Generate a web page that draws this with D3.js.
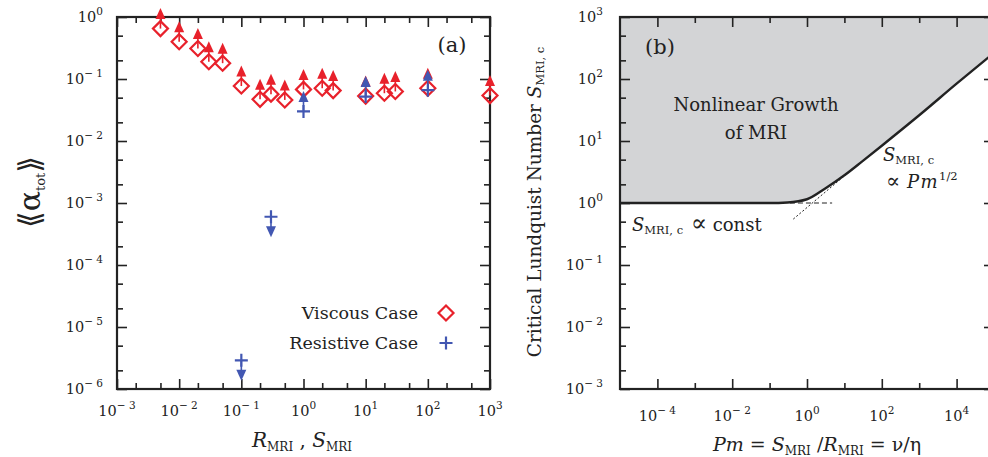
<!DOCTYPE html>
<html><head><meta charset="utf-8">
<script src="https://cdn.jsdelivr.net/npm/d3@7"></script>
<style>
html,body{margin:0;padding:0;background:#fff;}
svg{display:block;font-family:"DejaVu Serif",serif;}
</style></head><body>
<svg id="chart" width="988" height="457"></svg>
<script>
// ---------- Panel (a) data ----------
const viscousX     = [0.005, 0.01, 0.02, 0.03, 0.05, 0.1, 0.2, 0.3, 0.5, 1, 2, 3, 10, 20, 30, 100, 1000];
const viscousAlpha = [0.65, 0.40, 0.31, 0.19, 0.18, 0.077, 0.047, 0.057, 0.046, 0.068, 0.071, 0.065, 0.053, 0.059, 0.063, 0.071, 0.054];
const resistiveX     = [0.1, 0.3, 1, 10, 100];
const resistiveAlpha = [2.9e-6, 6e-4, 0.030, 0.052, 0.066];
const resistiveArrow = ["down", "down", "up", "up", "up"];
const xExpA = [-3, -2, -1, 0, 1, 2, 3];
const yExpA = [0, -1, -2, -3, -4, -5, -6];
const legendLabels = ["Viscous Case", "Resistive Case"];

// ---------- Panel (b) data ----------
const curvePm = [1e-5, 0.1, 0.3, 1, 3, 10, 30, 100, 1e3, 1e4, 1e5];
const curveS  = [1, 1, 1.02, 1.15, 1.7, 2.8, 4.7, 8.4, 26, 84, 265];
const constAsymPm = [0.35, 4.7];
const constAsymS  = [1, 1];
const powAsymPm = [0.43, 12];
const powAsymS  = [0.55, 3.0];
const xExpB = [-4, -2, 0, 2, 4];
const yExpB = [3, 2, 1, 0, -1, -2, -3];

// ---------- styles ----------
const RED = "#e8212b", BLUE = "#4257b2", INK = "#222", SHADE = "#d3d4d6";

const svg = d3.select("#chart");

// scales
const xA = d3.scaleLog().domain([1e-3, 1e3]).range([117, 490]);
const yA = d3.scaleLog().domain([1e-6, 1]).range([389, 17]);
const xB = d3.scaleLog().domain([1e-5, 1e5]).range([620, 994]);
const yB = d3.scaleLog().domain([1e-3, 1e3]).range([389, 17]);

function minorVals(lo, hi, mults) {
  const out = [];
  for (let e = lo; e < hi; e++) mults.forEach(m => out.push(m * Math.pow(10, e)));
  return out;
}

function drawFrameAxes(g, x, y, majX, minX, majY, minY) {
  const [x0, x1] = x.range(), [y1, y0] = y.range();
  const mk = (axis, tx, ty, vals, size) => {
    const a = g.append("g").attr("transform", `translate(${tx},${ty})`)
      .call(axis.tickValues(vals).tickSize(size).tickFormat(""));
    a.select(".domain").remove();
    a.selectAll("line").attr("stroke", INK).attr("stroke-width", 1.6);
  };
  [[majX, -10], [minX, -6]].forEach(([v, s]) => {
    mk(d3.axisBottom(x), 0, y1, v, s);
    mk(d3.axisTop(x), 0, y0, v, s);
  });
  [[majY, -10], [minY, -6]].forEach(([v, s]) => {
    mk(d3.axisLeft(y), x0, 0, v, s);
    mk(d3.axisRight(y), x1, 0, v, s);
  });
  g.append("rect").attr("x", x0).attr("y", y0).attr("width", x1 - x0).attr("height", y1 - y0)
    .attr("fill", "none").attr("stroke", INK).attr("stroke-width", 2.2);
}

function powLabel(g, px, py, e, anchor) {
  const t = g.append("text").attr("x", px).attr("y", py).attr("text-anchor", anchor)
    .attr("fill", INK).attr("font-size", 14.5);
  t.append("tspan").text("10");
  t.append("tspan").attr("dy", -7).attr("font-size", 10.5)
    .text(e < 0 ? "\u2212 " + (-e) : String(e));
}

// ================= Panel (a) =================
const gA = svg.append("g");
drawFrameAxes(gA, xA, yA,
  xExpA.map(e => Math.pow(10, e)), minorVals(-3, 3, [2, 5]),
  yExpA.map(e => Math.pow(10, e)), minorVals(-6, 0, [2, 5]));

xExpA.forEach(e => powLabel(gA, xA(Math.pow(10, e)), 416, e, "middle"));
yExpA.forEach(e => powLabel(gA, 103, yA(Math.pow(10, e)) + 5, e, "end"));

function arrow(g, cx, cy, dir, color) {
  const s = dir === "up" ? -1 : 1;
  g.append("line").attr("x1", cx).attr("y1", cy).attr("x2", cx).attr("y2", cy + s * 11)
    .attr("stroke", color).attr("stroke-width", 1.6);
  g.append("path")
    .attr("d", `M${cx - 5},${cy + s * 9.5}L${cx},${cy + s * 20.5}L${cx + 5},${cy + s * 9.5}Z`)
    .attr("fill", color);
}
function diamond(g, cx, cy) {
  g.append("path").attr("d", `M${cx},${cy - 7.5}L${cx + 7.5},${cy}L${cx},${cy + 7.5}L${cx - 7.5},${cy}Z`)
    .attr("fill", "none").attr("stroke", RED).attr("stroke-width", 2.2);
}
function plus(g, cx, cy) {
  g.append("path").attr("d", `M${cx - 6.5},${cy}H${cx + 6.5}M${cx},${cy - 6.5}V${cy + 6.5}`)
    .attr("stroke", BLUE).attr("stroke-width", 2.2).attr("fill", "none");
}

const gPts = gA.append("g");
viscousX.forEach((v, i) => {
  const cx = xA(v), cy = yA(viscousAlpha[i]);
  arrow(gPts, cx, cy, "up", RED);
  diamond(gPts, cx, cy);
});
resistiveX.forEach((v, i) => {
  const cx = xA(v), cy = yA(resistiveAlpha[i]);
  arrow(gPts, cx, cy, resistiveArrow[i], BLUE);
  plus(gPts, cx, cy);
});

// legend
legendLabels.forEach((lab, i) => {
  const ly = 313 + i * 30;
  gA.append("text").attr("x", 418).attr("y", ly + 6).attr("text-anchor", "end")
    .attr("font-size", 17.5).attr("fill", INK).text(lab);
  if (i === 0) diamond(gA, 446, ly); else plus(gA, 446, ly);
});

gA.append("text").attr("x", 452).attr("y", 52).attr("text-anchor", "middle")
  .attr("font-size", 21).attr("fill", INK).text("(a)");

// axis titles (a)
const xtA = gA.append("text").attr("x", 302).attr("y", 447).attr("text-anchor", "middle")
  .attr("fill", INK).attr("font-size", 20);
xtA.append("tspan").attr("font-style", "italic").text("R");
xtA.append("tspan").attr("font-size", 12).attr("dy", 4).text("MRI");
xtA.append("tspan").attr("dy", -4).text(" , ");
xtA.append("tspan").attr("font-style", "italic").text("S");
xtA.append("tspan").attr("font-size", 12).attr("dy", 4).text("MRI");

const ytA = gA.append("text").attr("transform", "translate(40,192) rotate(-90)")
  .attr("text-anchor", "middle").attr("fill", INK).attr("font-size", 30);
ytA.append("tspan").attr("font-family", "DejaVu Sans").text("\u27EA");
ytA.append("tspan").text("\u03B1");
ytA.append("tspan").attr("font-size", 13).attr("dy", 5).text("tot");
ytA.append("tspan").attr("dy", -5).attr("font-family", "DejaVu Sans").text("\u27EB");

// ================= Panel (b) =================
const gB = svg.append("g");
const curve = curvePm.map((p, i) => [p, curveS[i]]);

gB.append("path").datum(curve)
  .attr("d", d3.area().x(d => xB(d[0])).y0(yB(1e3)).y1(d => yB(d[1])).curve(d3.curveMonotoneX))
  .attr("fill", SHADE);

drawFrameAxes(gB, xB, yB,
  d3.range(-4, 6, 2).map(e => Math.pow(10, e)), [-3, -1, 1, 3].map(e => Math.pow(10, e)),
  yExpB.map(e => Math.pow(10, e)), minorVals(-3, 3, [2, 5]));

xExpB.forEach(e => powLabel(gB, xB(Math.pow(10, e)), 421, e, "middle"));
yExpB.forEach(e => powLabel(gB, 603, yB(Math.pow(10, e)) + 5, e, "end"));

const lineGen = d3.line().x(d => xB(d[0])).y(d => yB(d[1]));
gB.append("path").datum(constAsymPm.map((p, i) => [p, constAsymS[i]]))
  .attr("d", lineGen).attr("fill", "none").attr("stroke", INK).attr("stroke-width", 1)
  .attr("stroke-dasharray", "5,3");
gB.append("path").datum(powAsymPm.map((p, i) => [p, powAsymS[i]]))
  .attr("d", lineGen).attr("fill", "none").attr("stroke", INK).attr("stroke-width", 1)
  .attr("stroke-dasharray", "2,2");
gB.append("path").datum(curve)
  .attr("d", d3.line().x(d => xB(d[0])).y(d => yB(d[1])).curve(d3.curveMonotoneX))
  .attr("fill", "none").attr("stroke", INK).attr("stroke-width", 2.4);

gB.append("text").attr("x", 660).attr("y", 54).attr("text-anchor", "middle")
  .attr("font-size", 21).attr("fill", INK).text("(b)");
gB.append("text").attr("x", 756).attr("y", 111).attr("text-anchor", "middle")
  .attr("font-size", 18).attr("fill", INK).text("Nonlinear Growth");
gB.append("text").attr("x", 756).attr("y", 139).attr("text-anchor", "middle")
  .attr("font-size", 18).attr("fill", INK).text("of MRI");

const t1 = gB.append("text").attr("x", 632).attr("y", 231).attr("font-size", 18).attr("fill", INK);
t1.append("tspan").attr("font-style", "italic").text("S");
t1.append("tspan").attr("font-size", 11.5).attr("dy", 3).text("MRI, c");
t1.append("tspan").attr("dy", -3).attr("font-size", 24).text(" \u221D");
t1.append("tspan").text(" const");

const t2 = gB.append("text").attr("x", 883).attr("y", 161).attr("font-size", 18).attr("fill", INK);
t2.append("tspan").attr("font-style", "italic").text("S");
t2.append("tspan").attr("font-size", 11.5).attr("dy", 3).text("MRI, c");
const t3 = gB.append("text").attr("x", 886).attr("y", 188).attr("font-size", 18).attr("fill", INK);
t3.append("tspan").attr("font-size", 21).text("\u221D ");
t3.append("tspan").attr("font-style", "italic").attr("letter-spacing", 1.5).text("Pm");
t3.append("tspan").attr("font-size", 11.5).attr("dy", -8).text("1/2");

const xtB = gB.append("text").attr("x", 817).attr("y", 451).attr("text-anchor", "middle")
  .attr("font-size", 19).attr("fill", INK);
xtB.append("tspan").attr("font-style", "italic").text("Pm");
xtB.append("tspan").text(" = ");
xtB.append("tspan").attr("font-style", "italic").text("S");
xtB.append("tspan").attr("font-size", 12).attr("dy", 4).text("MRI");
xtB.append("tspan").attr("dy", -4).text(" /");
xtB.append("tspan").attr("font-style", "italic").text("R");
xtB.append("tspan").attr("font-size", 12).attr("dy", 4).text("MRI");
xtB.append("tspan").attr("dy", -4).text(" = \u03BD/\u03B7");

const ytB = gB.append("text").attr("transform", "translate(541,202) rotate(-90)")
  .attr("text-anchor", "middle").attr("font-size", 18.5).attr("fill", INK);
ytB.append("tspan").text("Critical  Lundquist Number  ");
ytB.append("tspan").attr("font-style", "italic").text("S");
ytB.append("tspan").attr("font-size", 11.5).attr("dy", 3).text("MRI, c");
</script>
</body></html>
